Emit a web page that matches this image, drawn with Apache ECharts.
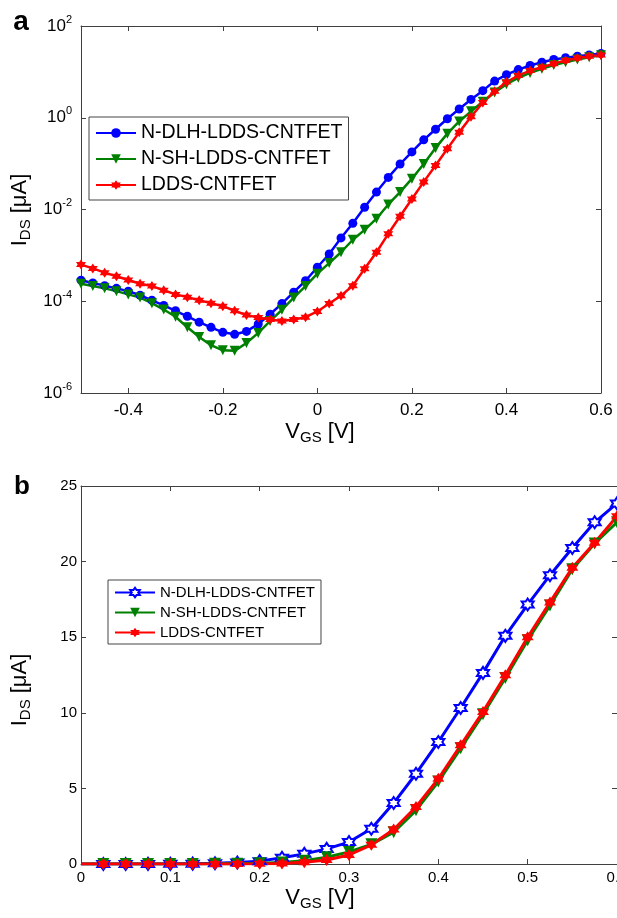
<!DOCTYPE html>
<html><head><meta charset="utf-8">
<script src="https://cdn.jsdelivr.net/npm/echarts@6/dist/echarts.min.js"></script>
<style>
html,body{margin:0;padding:0;background:#fff;overflow:hidden;}
#a{position:absolute;left:0;top:0;width:617px;height:450px;}
#b{position:absolute;left:0;top:450px;width:617px;height:468px;}
</style>
</head><body>
<div id="a"></div><div id="b"></div>
<script>
// ---------- Panel a (log scale) ----------
const vgsA = [-0.5,-0.475,-0.45,-0.425,-0.4,-0.375,-0.35,-0.325,-0.3,-0.275,-0.25,-0.225,-0.2,-0.175,-0.15,-0.125,-0.1,-0.075,-0.05,-0.025,0,0.025,0.05,0.075,0.1,0.125,0.15,0.175,0.2,0.225,0.25,0.275,0.3,0.325,0.35,0.375,0.4,0.425,0.45,0.475,0.5,0.525,0.55,0.575,0.6];
const dlhA = [2.88e-4,2.51e-4,2.19e-4,1.91e-4,1.66e-4,1.35e-4,1.05e-4,8.1e-5,6.2e-5,4.7e-5,3.5e-5,2.7e-5,2.1e-5,1.9e-5,2.2e-5,3.2e-5,5.2e-5,8.9e-5,1.58e-4,2.8e-4,5.5e-4,1.07e-3,2.4e-3,5.0e-3,1.12e-2,2.4e-2,5.0e-2,9.8e-2,0.18,0.33,0.56,0.95,1.55,2.51,3.9,6.3,8.7,11.2,13.8,16.2,18.6,20.4,21.9,23.4,25.1];
const shA = [2.4e-4,2.14e-4,1.91e-4,1.66e-4,1.41e-4,1.2e-4,9.1e-5,6.6e-5,4.6e-5,2.7e-5,1.66e-5,1.1e-5,8.5e-6,8.3e-6,1.23e-5,2.04e-5,3.7e-5,6.5e-5,1.2e-4,2.14e-4,4.0e-4,6.8e-4,1.17e-3,2.19e-3,3.6e-3,6.3e-3,1.29e-2,2.4e-2,4.7e-2,9.8e-2,0.22,0.45,0.83,1.38,2.24,3.55,5.4,7.4,9.5,11.7,14.1,16.2,18.6,20.9,22.9];
const lddsA = [6.3e-4,5.2e-4,4.2e-4,3.5e-4,2.9e-4,2.4e-4,2.14e-4,1.74e-4,1.41e-4,1.23e-4,1.05e-4,9.1e-5,7.8e-5,6.2e-5,5.0e-5,4.4e-5,4.0e-5,3.7e-5,4.0e-5,4.5e-5,6.0e-5,8.9e-5,1.32e-4,2.19e-4,5.1e-4,1.17e-3,2.95e-3,7.1e-3,1.7e-2,4.0e-2,9.1e-2,0.21,0.48,1.05,2.14,3.8,6.0,8.3,10.7,12.6,15.1,17.8,20.0,21.9,23.4];
const xTicksA = [-0.4,-0.2,0,0.2,0.4,0.6];

// ---------- Panel b (linear scale) ----------
const vgsB = [0,0.025,0.05,0.075,0.1,0.125,0.15,0.175,0.2,0.225,0.25,0.275,0.3,0.325,0.35,0.375,0.4,0.425,0.45,0.475,0.5,0.525,0.55,0.575,0.6];
const dlhB = [0,0.001,0.002,0.005,0.011,0.024,0.05,0.1,0.19,0.41,0.67,1.0,1.45,2.33,4.03,5.97,8.07,10.32,12.64,15.09,17.16,19.1,20.9,22.6,23.85];
const shB = [0,0.0004,0.0007,0.0012,0.0036,0.0063,0.013,0.024,0.047,0.1,0.22,0.45,0.8,1.3,2.1,3.55,5.45,7.65,9.9,12.3,14.8,17.1,19.5,21.2,22.6];
const lddsB = [0,0.0001,0.0001,0.0002,0.0005,0.0012,0.003,0.007,0.017,0.04,0.12,0.27,0.6,1.27,2.28,3.77,5.64,7.85,10.06,12.48,15.0,17.3,19.6,21.25,23.0];

const names = ['N-DLH-LDDS-CNTFET','N-SH-LDDS-CNTFET','LDDS-CNTFET'];
const colors = ['#0000ff','#008000','#ff0000'];

const FONT = "'Liberation Sans', Arial, sans-serif";
const HEX = 'path://M0,-10 L2.89,-5 L8.66,-5 L5.77,0 L8.66,5 L2.89,5 L0,10 L-2.89,5 L-8.66,5 L-5.77,0 L-8.66,-5 L-2.89,-5 Z';
const TRI = 'path://M-10,-8 L10,-8 L0,9 Z';
const AX = '#404040';

function pairs(xs, ys){ return xs.map((x,i)=>[x, ys[i]]); }

function frameAxis(base){
  return Object.assign({
    axisLine:{show:true,onZero:false,lineStyle:{color:AX,width:1}},
    axisTick:{show:true,inside:true,length:5,lineStyle:{color:AX}},
    splitLine:{show:false},
    minorTick:{show:false},
    axisLabel:{show:false}
  }, base);
}

const nameRich = {
  n:{fontSize:22,fontFamily:FONT,fill:'#000'},
  s:{fontSize:15,fontFamily:FONT,fill:'#000',padding:[11,0,0,0]}
};

// ----- Chart a -----
const chA = echarts.init(document.getElementById('a'));
const ptsA = [dlhA, shA, lddsA];
const symA = ['circle', TRI, HEX];
chA.setOption({
  animation:false,
  backgroundColor:'#fff',
  grid:{left:81,right:16,top:26,bottom:57,outerBoundsMode:'none',containLabel:false},
  xAxis:[
    frameAxis({type:'value',min:-0.5,max:0.6,position:'bottom',
      axisTick:{show:true,inside:true,length:5,lineStyle:{color:AX},customValues:xTicksA},
      axisLabel:{show:true,customValues:xTicksA,margin:9,color:'#000',fontSize:17,fontFamily:FONT,
        formatter:v=>String(Math.round(v*10)/10)}}),
    frameAxis({type:'value',min:-0.5,max:0.6,position:'top',
      axisTick:{show:true,inside:true,length:5,lineStyle:{color:AX},customValues:xTicksA}})
  ],
  yAxis:[
    frameAxis({type:'log',logBase:10,min:1e-6,max:100,interval:2,position:'left',
      axisLabel:{show:true,margin:9,color:'#000',fontFamily:FONT,
        formatter:v=>'{b|10}{e|'+Math.round(Math.log10(v))+'}',
        rich:{b:{fontSize:17,fontFamily:FONT,color:'#000'},e:{fontSize:11,fontFamily:FONT,color:'#000',padding:[0,0,13,0]}}}}),
    frameAxis({type:'log',logBase:10,min:1e-6,max:100,interval:2,position:'right'})
  ],
  legend:{orient:'vertical',left:89,top:117,itemWidth:40,itemHeight:12,itemGap:6,
    padding:[6,6,5,6],borderColor:'#444',borderWidth:1,backgroundColor:'#fff',
    textStyle:{fontSize:19.5,fontFamily:FONT,color:'#000'},data:names},
  series: names.map((n,k)=>({
    name:n,type:'line',xAxisIndex:0,yAxisIndex:0,data:pairs(vgsA, ptsA[k]),
    symbol:symA[k],symbolSize:k===0?9:10,showAllSymbol:true,
    lineStyle:{color:colors[k],width:2.5},itemStyle:{color:colors[k]}
  })),
  graphic:[
    {type:'text',x:21,y:22,style:{text:'a',align:'center',verticalAlign:'middle',fontSize:28,fontWeight:'bold',fontFamily:FONT,fill:'#000'}},
    {type:'text',x:20,y:210,rotation:Math.PI/2,style:{text:'{n|I}{s|DS}{n| [μA]}',align:'center',verticalAlign:'middle',rich:nameRich}},
    {type:'text',x:320,y:432,style:{text:'{n|V}{s|GS}{n| [V]}',align:'center',verticalAlign:'middle',rich:nameRich}}
  ]
});

// ----- Chart b -----
const chB = echarts.init(document.getElementById('b'));
const ptsB = [dlhB, shB, lddsB];
const symB = [HEX, TRI, HEX];
const itemB = [
  {color:'#ffffff',borderColor:'#0000ff',borderWidth:2},
  {color:'#008000'},
  {color:'#ff0000'}
];
chB.setOption({
  animation:false,
  backgroundColor:'#fff',
  grid:{left:81,right:0,top:36,bottom:54,outerBoundsMode:'none',containLabel:false},
  xAxis:[
    frameAxis({type:'value',min:0,max:0.6,interval:0.1,position:'bottom',
      axisLabel:{show:true,margin:6,color:'#000',fontSize:15,fontFamily:FONT,alignMaxLabel:'center',alignMinLabel:'center',
        formatter:v=>String(Math.round(v*10)/10)}}),
    frameAxis({type:'value',min:0,max:0.6,interval:0.1,position:'top'})
  ],
  yAxis:[
    frameAxis({type:'value',min:0,max:25,interval:5,position:'left',
      axisLabel:{show:true,margin:4,color:'#000',fontSize:15,fontFamily:FONT}}),
    frameAxis({type:'value',min:0,max:25,interval:5,position:'right'})
  ],
  legend:{orient:'vertical',left:108,top:130,itemWidth:40,itemHeight:12,itemGap:5,
    padding:[5,6,4,6],borderColor:'#444',borderWidth:1,backgroundColor:'#fff',
    textStyle:{fontSize:15,fontFamily:FONT,color:'#000'},data:names},
  series: names.map((n,k)=>({
    name:n,type:'line',xAxisIndex:0,yAxisIndex:0,
    data:vgsB.map((x,i)=> i===0 ? {value:[x, ptsB[k][i]],symbol:'none'} : [x, ptsB[k][i]]),
    symbol:symB[k],symbolSize:12,showAllSymbol:true,
    lineStyle:{color:colors[k],width:3},itemStyle:itemB[k]
  })),
  graphic:[
    {type:'text',x:22,y:37,style:{text:'b',align:'center',verticalAlign:'middle',fontSize:26,fontWeight:'bold',fontFamily:FONT,fill:'#000'}},
    {type:'text',x:20,y:240,rotation:Math.PI/2,style:{text:'{n|I}{s|DS}{n| [μA]}',align:'center',verticalAlign:'middle',rich:nameRich}},
    {type:'text',x:320,y:448,style:{text:'{n|V}{s|GS}{n| [V]}',align:'center',verticalAlign:'middle',rich:nameRich}}
  ]
});
</script>
</body></html>
